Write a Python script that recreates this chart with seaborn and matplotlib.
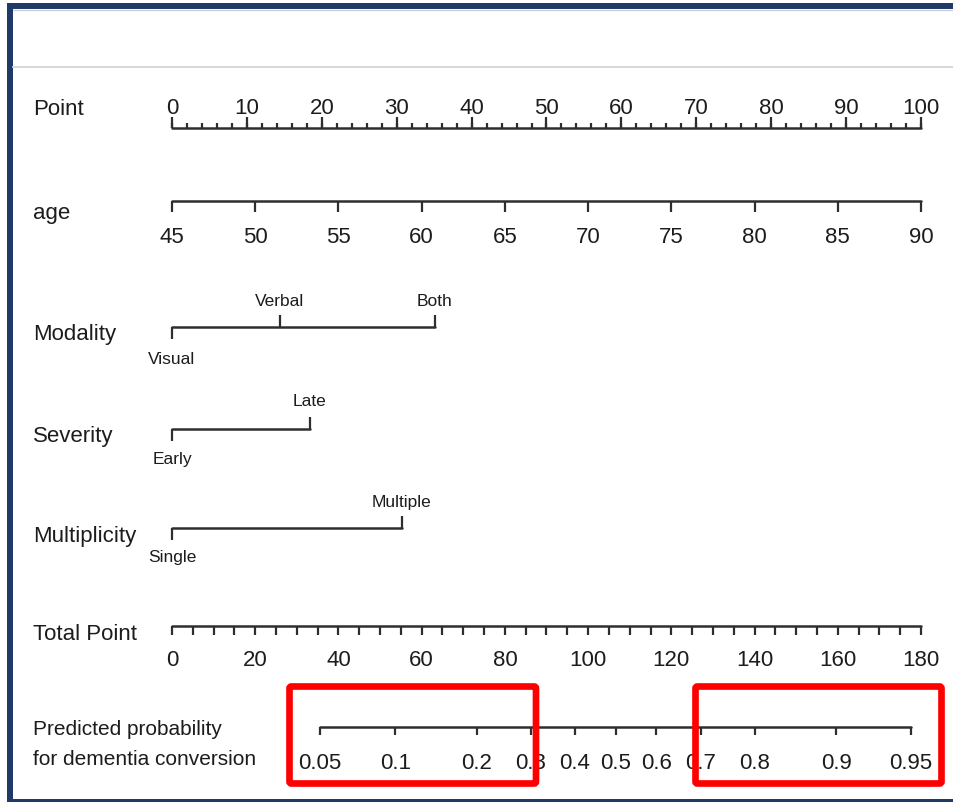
import numpy as np
import pandas as pd
import matplotlib
matplotlib.use("Agg")
import matplotlib.pyplot as plt
import seaborn as sns
from matplotlib.patches import Rectangle, FancyBboxPatch

# ---------------- data ----------------
point_ticks = [0, 10, 20, 30, 40, 50, 60, 70, 80, 90, 100]
point_minor = list(range(0, 101, 2))
age_ticks = [45, 50, 55, 60, 65, 70, 75, 80, 85, 90]
age_min, age_max = 45, 90
modality_levels = ["Visual", "Verbal", "Both"]
modality_points = [0, 14.4, 35.1]
severity_levels = ["Early", "Late"]
severity_points = [0, 18.4]
multiplicity_levels = ["Single", "Multiple"]
multiplicity_points = [0, 30.7]
total_ticks = [0, 20, 40, 60, 80, 100, 120, 140, 160, 180]
total_minor = list(range(0, 181, 5))
total_max = 180
prob_ticks = [0.05, 0.1, 0.2, 0.3, 0.4, 0.5, 0.6, 0.7, 0.8, 0.9, 0.95]
prob_labels = ["0.05", "0.1", "0.2", "0.3", "0.4", "0.5", "0.6", "0.7", "0.8", "0.9", "0.95"]
lp_intercept = -4.421   # linear predictor = intercept + slope * total points
lp_slope = 0.04147
row_labels = ["Point", "age", "Modality", "Severity", "Multiplicity", "Total Point",
              "Predicted probability\nfor dementia conversion"]

# ---------------- style ----------------
sns.set_theme(style="white")
plt.rcParams["font.family"] = ["Liberation Sans", "DejaVu Sans"]
TXT = "#1c1c1c"
LN = "#2e2e2e"
NAVY = "#1F3A66"

W, H = 954, 803
fig = plt.figure(figsize=(W / 100, H / 100), dpi=100)
fig.patch.set_facecolor("white")

# main axes: x in "Point" units, y in pixel rows
X0_PX, PX_PER_PT = 172, 7.49
ax = fig.add_axes([0, 0, 1, 1])

# scale conversions
def age_to_pt(a):
    return (np.asarray(a, float) - age_min) / (age_max - age_min) * 100

def total_to_pt(t):
    return np.asarray(t, float) * 100.0 / total_max

def prob_to_pt(p):
    p = np.asarray(p, float)
    lp = np.log(p / (1 - p))
    return total_to_pt((lp - lp_intercept) / lp_slope)

# row layout (pixel rows)
Y = {"Point": 129, "age": 202, "Modality": 328, "Severity": 430,
     "Multiplicity": 529, "Total": 627, "Prob": 728}

# baseline segments drawn with seaborn
segs = []
def add_seg(name, xs, y):
    segs.append(pd.DataFrame({"row": name, "x": [min(xs), max(xs)], "y": [y, y]}))

add_seg("Point", [0, 100], Y["Point"])
add_seg("age", age_to_pt([age_min, age_max]), Y["age"])
add_seg("Modality", modality_points, Y["Modality"])
add_seg("Severity", severity_points, Y["Severity"])
add_seg("Multiplicity", multiplicity_points, Y["Multiplicity"])
add_seg("Total", total_to_pt([0, total_max]), Y["Total"])
add_seg("Prob", prob_to_pt([prob_ticks[0], prob_ticks[-1]]), Y["Prob"])
df = pd.concat(segs, ignore_index=True)
sns.lineplot(data=df, x="x", y="y", units="row", estimator=None, sort=False,
             color=LN, lw=1.8, ax=ax, legend=False)

tick_kw = dict(color=LN, lw=1.6)
fs_tick = 16
fs_row = 16
fs_cat = 12.5

# Point axis: ticks up, labels above
ax.vlines(point_minor, Y["Point"] - 5, Y["Point"], **tick_kw)
ax.vlines(point_ticks, Y["Point"] - 11, Y["Point"], **tick_kw)
for v in point_ticks:
    ax.text(v, 114, str(v), ha="center", va="baseline", fontsize=fs_tick, color=TXT)

# age axis: ticks down, labels below
ax.vlines(age_to_pt(age_ticks), Y["age"], Y["age"] + 11, **tick_kw)
for a, x in zip(age_ticks, age_to_pt(age_ticks)):
    ax.text(x, 243, str(a), ha="center", va="baseline", fontsize=fs_tick, color=TXT)

# categorical rows
def cat_row(levels, pts, y, below_base, above_base):
    for i, (lab, p) in enumerate(zip(levels, pts)):
        if i == 0:
            ax.vlines(p, y, y + 12, **tick_kw)
            ax.text(p, below_base, lab, ha="center", va="baseline", fontsize=fs_cat, color=TXT)
        else:
            ax.vlines(p, y - 12, y, **tick_kw)
            ax.text(p, above_base, lab, ha="center", va="baseline", fontsize=fs_cat, color=TXT)

cat_row(modality_levels, modality_points, Y["Modality"], 364, 306)
cat_row(severity_levels, severity_points, Y["Severity"], 464, 406)
cat_row(multiplicity_levels, multiplicity_points, Y["Multiplicity"], 562, 507)

# Total points axis: ticks down, labels below
ax.vlines(total_to_pt(total_minor), Y["Total"], Y["Total"] + 9, **tick_kw)
for t, x in zip(total_ticks, total_to_pt(total_ticks)):
    ax.text(x, 666, str(t), ha="center", va="baseline", fontsize=fs_tick, color=TXT)

# probability axis
ax.vlines(prob_to_pt(prob_ticks), Y["Prob"], Y["Prob"] + 8, **tick_kw)
for lab, x in zip(prob_labels, prob_to_pt(prob_ticks)):
    ax.text(x, 769, lab, ha="center", va="baseline", fontsize=fs_tick, color=TXT)

# row labels (left)
lab_x = (33 - X0_PX) / PX_PER_PT
row_base = [115, 219, 340, 442, 542, 640]
for lab, yb in zip(row_labels[:-1], row_base):
    ax.text(lab_x, yb, lab, ha="left", va="baseline", fontsize=fs_row, color=TXT)
ax.text(lab_x, 735, "Predicted probability", ha="left", va="baseline", fontsize=15, color=TXT)
ax.text(lab_x, 765, "for dementia conversion", ha="left", va="baseline", fontsize=15, color=TXT)

ax.set_xlim(-X0_PX / PX_PER_PT, (W - X0_PX) / PX_PER_PT)
ax.set_ylim(H, 0)
ax.set_axis_off()

# decoration overlay in pixel coordinates
ov = fig.add_axes([0, 0, 1, 1])
ov.set_xlim(0, W)
ov.set_ylim(H, 0)
ov.set_axis_off()
ov.add_patch(Rectangle((7, 4), 6, H - 4, color=NAVY, lw=0))
ov.add_patch(Rectangle((7, 4), W - 7, 6, color=NAVY, lw=0))
ov.add_patch(Rectangle((7, 800), W - 7, 3, color=NAVY, lw=0))
ov.plot([13, W], [11, 11], color="#c5cad3", lw=0.8)
ov.plot([13, W], [68, 68], color="#d9d9d9", lw=1.5)
for (x0, x1) in [(289.5, 536), (695.5, 941.5)]:
    ov.add_patch(FancyBboxPatch((x0, 687.5), x1 - x0, 97,
                                boxstyle="round,pad=0,rounding_size=2",
                                fill=False, edgecolor="#FF0000", lw=4.8))

fig.savefig("out.png", dpi=100, facecolor="white")
